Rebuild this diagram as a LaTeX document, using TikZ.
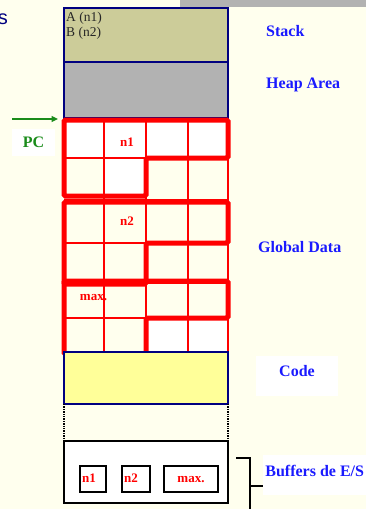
\documentclass[tikz,border=0pt]{standalone}
\usepackage{fontspec}
\setmainfont{Liberation Serif}
\newfontfamily\sansfam{Liberation Sans}
\usepackage{xcolor}
\usetikzlibrary{positioning,arrows.meta}

\definecolor{paper}{HTML}{FFFFEE}
\definecolor{stackcol}{HTML}{CCCC99}
\definecolor{heapcol}{HTML}{B2B2B2}
\definecolor{codecol}{HTML}{FFFF99}
\definecolor{segline}{HTML}{000080}
\definecolor{lblblue}{HTML}{1A1AFF}
\definecolor{pcgreen}{HTML}{1A8C1A}

\begin{document}
\begin{tikzpicture}[x=1pt, y=-1pt,
  seg/.style={draw=segline, line width=1.2pt, minimum width=164pt, inner sep=0pt, outer sep=0pt},
  lbl/.style={text=lblblue, font=\fontsize{16}{18}\selectfont\bfseries, inner sep=0pt},
  cellname/.style={text=red, font=\fontsize{13}{14}\selectfont\bfseries, inner sep=0pt},
  bufbox/.style={draw=black, line width=1.3pt, minimum height=26pt, inner sep=0pt, fill=white},
  group/.style={draw=red, line width=5pt, rounded corners=1.5pt},
  thin/.style={draw=red, line width=1.2pt},
  arr/.style={-{Triangle[length=2.2mm, width=2mm]}, pcgreen, line width=1.3pt}]
  \useasboundingbox (0,0) rectangle (366,509);
  \fill[paper] (0,0) rectangle (366,509);
  \fill[heapcol] (180,0) rectangle (366,7);
  \node[anchor=east, text=segline, font=\sansfam\fontsize{20}{22}\selectfont, inner sep=0pt] (cut) at (8,19) {s};

  % segments of the memory
  \node[seg, fill=stackcol, minimum height=54pt] (stack) at (146,35) {};
  \node[seg, fill=heapcol, minimum height=56pt] (heap) at (146,90) {};
  \node[anchor=north west, align=left, text=black!85, font=\fontsize{13.5}{15}\selectfont, inner sep=0pt] (vars) at (66,12) {A (n1)\\B (n2)};

  % global data cells
  \fill[white] (64,120) rectangle (228,158);
  \fill[white] (104,158) rectangle (146,200);
  \fill[white] (146,318) rectangle (228,352);
  \foreach \x in {104,146,188,228}
    \draw[thin] (\x,120) -- (\x,352);
  \foreach \y in {158,200,243,283,318}
    \draw[thin] (64,\y) -- (228,\y);
  \draw[group] (64,120) -- (228,120) -- (228,158) -- (146,158) -- (146,196) -- (64,196) -- cycle;
  \draw[group] (64,202) -- (228,202) -- (228,243) -- (146,243) -- (146,284) -- (64,284) -- cycle;
  \draw[group] (64,281) -- (228,281) -- (228,318) -- (146,318) -- (146,354) -- (64,354) -- cycle;
  \node[cellname] (n1) at (127,142) {n1};
  \node[cellname] (n2) at (127,221) {n2};
  \node[cellname] (mx) at (93.5,298) {max.};

  \node[seg, fill=codecol, minimum height=52pt] (code) at (146,378) {};
  \node[seg, draw=none, minimum height=37pt] (gap) at (146,422.5) {};
  \draw[densely dotted, line width=1.4pt] (gap.north west) -- (gap.south west);
  \draw[densely dotted, line width=1.4pt] (gap.north east) -- (gap.south east);
  \node[seg, draw=black, fill=white, minimum height=62pt] (buf) at (146,472) {};
  \node[bufbox, minimum width=26pt] (b1) at (93,479) {};
  \node[bufbox, minimum width=28pt] (b2) at (136,479) {};
  \node[bufbox, minimum width=54pt] (b3) at (191,479) {};
  \node[cellname, anchor=base west] (t1) at (82,482) {n1};
  \node[cellname, anchor=base west] (t2) at (124,482) {n2};
  \node[cellname, anchor=base] (t3) at (191,482) {max.};

  % program counter
  \coordinate (pctail) at (12,119);
  \coordinate (pchead) at (58,119);
  \draw[arr] (pctail) -- (pchead);
  \node[fill=white, minimum width=43pt, minimum height=27pt, inner sep=0pt, text=pcgreen,
        font=\fontsize{16}{18}\selectfont\bfseries] (pc) at (33.5,142) {PC};

  % labels on the right
  \node[lbl, anchor=base west] (lstack) at (266,36) {Stack};
  \node[lbl, anchor=base west] (lheap) at (266,88) {Heap Area};
  \node[lbl, anchor=base west] (lglob) at (258,252) {Global Data};
  \node[lbl, fill=white, minimum width=82pt, minimum height=40pt] (lcode) at (297,376) {\raisebox{10pt}{Code}};
  \node[lbl, fill=white, minimum width=103pt, minimum height=40pt, anchor=west] (lbuf) at (263,475) {\raisebox{8pt}{Buffers de E/S}};
  \coordinate (brtop) at (236,458);
  \coordinate (brbot) at (250,509);
  \draw[line width=1.6pt] (brtop) -- (brtop -| brbot) -- (brbot);
  \draw[line width=1.6pt] (brtop -| brbot) ++(0,28) -- (lbuf.west |- 0,486);
\end{tikzpicture}
\end{document}
